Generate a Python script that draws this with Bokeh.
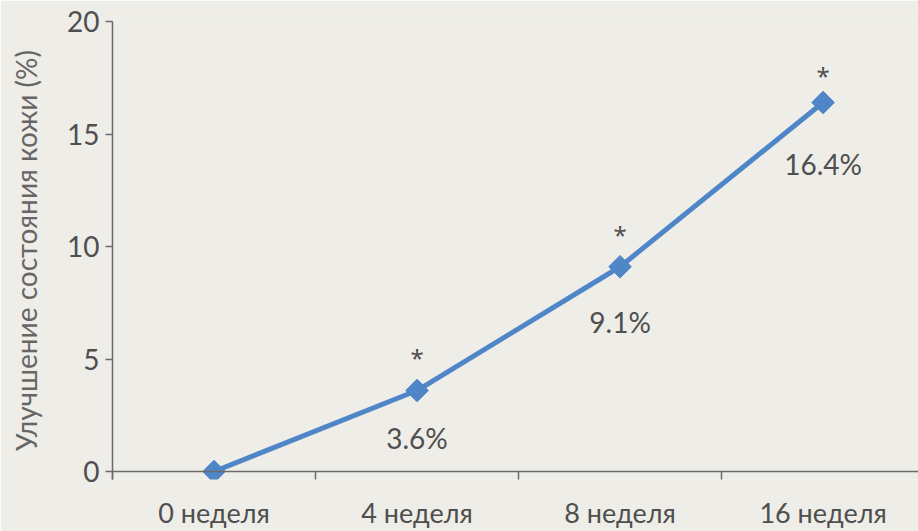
from bokeh.plotting import figure
from bokeh.models import ColumnDataSource, FixedTicker, Range1d, Span
from bokeh.core.properties import value
from bokeh.embed import file_html
from bokeh.resources import INLINE
import math

# ---- data ----
weeks = ["0 неделя", "4 неделя", "8 неделя", "16 неделя"]
improvement = [0.0, 3.6, 9.1, 16.4]
value_labels = ["", "3.6%", "9.1%", "16.4%"]
significance = ["", "*", "*", "*"]
y_ticks = [0, 5, 10, 15, 20]

# ---- style ----
FONT = "Lato"
STAR_FONT = "Noto Sans"
TEXT = "#4f4f4f"
AXIS = "#6b6b6b"
BLUE = "#4f86c8"
BG = "#eeede7"
label_dy = [0, -47, -55, -61]   # screen offsets of value labels (down)
star_dy = [0, 33, 32, 27]       # screen offsets of asterisks (up)

xs = [i + 0.5 for i in range(len(weeks))]
src = ColumnDataSource(dict(x=xs, y=improvement, lab=value_labels, star=significance,
                            ldy=[-d for d in label_dy], sdy=[-d for d in star_dy]))

p = figure(width=918, height=531, output_backend="svg", toolbar_location=None,
           x_range=Range1d(0, 3.97), y_range=Range1d(-0.355, 20),
           min_border_left=112, min_border_right=0, min_border_top=21, min_border_bottom=51)
p.background_fill_color = BG
p.border_fill_color = BG
p.outline_line_color = None
p.grid.visible = False

# x axis baseline at y = 0
p.add_layout(Span(location=0, dimension="width", line_color=AXIS, line_width=1.5))

p.line("x", "y", source=src, line_color=BLUE, line_width=5)
p.scatter("x", "y", source=src, marker="square", angle=math.pi / 4, size=16,
          fill_color=BLUE, line_color=BLUE)

p.text("x", "y", text="lab", source=src, y_offset="ldy", text_align="center",
       text_baseline="middle", text_font=value(FONT), text_font_size="28px", text_color=TEXT)
p.text("x", "y", text="star", source=src, y_offset="sdy", text_align="center",
       text_baseline="middle", text_font=value(STAR_FONT), text_font_size="24px", text_color=TEXT)

xa = p.xaxis[0]
xa.ticker = FixedTicker(ticks=xs, minor_ticks=list(range(len(weeks))))
xa.major_label_overrides = {x: w for x, w in zip(xs, weeks)}
xa.major_tick_out = 0
xa.major_tick_in = 0
xa.minor_tick_out = 0
xa.minor_tick_in = 8
xa.minor_tick_line_color = AXIS
xa.minor_tick_line_width = 1.5
xa.axis_line_color = None
xa.major_label_standoff = 16
xa.major_label_text_font = FONT
xa.major_label_text_font_size = "27px"
xa.major_label_text_color = TEXT

ya = p.yaxis[0]
ya.ticker = FixedTicker(ticks=y_ticks)
ya.minor_tick_line_color = None
ya.major_tick_out = 7
ya.major_tick_in = 0
ya.major_tick_line_color = AXIS
ya.major_tick_line_width = 1.5
ya.axis_line_color = AXIS
ya.axis_line_width = 1.5
ya.major_label_standoff = 6
ya.major_label_text_font = FONT
ya.major_label_text_font_size = "28px"
ya.major_label_text_color = TEXT
ya.axis_label = "Улучшение состояния кожи (%)"
ya.axis_label_text_font = FONT
ya.axis_label_text_font_style = "normal"
ya.axis_label_text_font_size = "28px"
ya.axis_label_text_color = "#666666"
ya.axis_label_standoff = 21

open("out.html", "w").write(file_html(p, INLINE))
